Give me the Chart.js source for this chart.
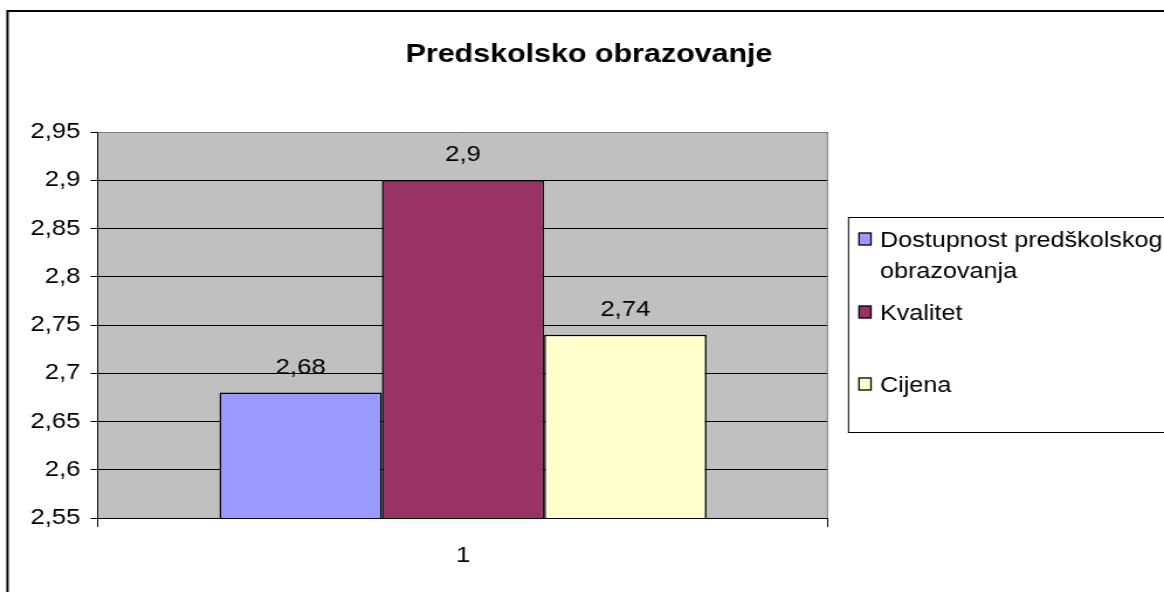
<!DOCTYPE html>
<html>
<head>
<meta charset="utf-8">
<script src="https://cdn.jsdelivr.net/npm/chart.js@4/dist/chart.umd.min.js"></script>
<style>
  html, body { margin: 0; padding: 0; background: #fff; overflow: hidden; }
  /* the original picture is stretched sideways, so the chart is drawn narrower and scaled */
  #wrap { width: 995px; height: 592px; transform: scaleX(1.169849); transform-origin: 0 0; }
</style>
</head>
<body>
<div id="wrap"><canvas id="chart"></canvas></div>
<script>
  // ---- Data -----------------------------------------------------------------
  const chartTitle  = 'Predskolsko obrazovanje';
  const categories  = ['1'];
  const seriesNames = ['Dostupnost predškolskog obrazovanja', 'Kvalitet', 'Cijena'];
  const legendLines = [['Dostupnost predškolskog', 'obrazovanja'], ['Kvalitet'], ['Cijena']];
  const dostupnost  = [2.68];
  const kvalitet    = [2.9];
  const cijena      = [2.74];
  const yTicks      = [2.55, 2.6, 2.65, 2.7, 2.75, 2.8, 2.85, 2.9, 2.95];

  const colors = ['#9999FF', '#993366', '#FFFFCC'];
  const FONT   = '"Liberation Sans", Arial, sans-serif';
  const SX     = 1164 / 995;                 // horizontal stretch of the page
  function ux(px) { return px / SX; }        // screen x -> canvas x

  function fmt(v) { return Number(v.toFixed(2)).toString().replace('.', ','); }

  // ---- Plugins --------------------------------------------------------------
  const frame = {
    id: 'frame',
    beforeDraw: function (chart) {
      const ctx = chart.ctx, a = chart.chartArea;
      ctx.save();
      ctx.fillStyle = '#fff';
      ctx.fillRect(0, 0, chart.width, chart.height);
      // outer border (right and bottom fall outside the picture)
      ctx.strokeStyle = '#000';
      ctx.lineWidth = 2;
      ctx.strokeRect(ux(7.5), 11, chart.width + 20, chart.height + 20);
      ctx.fillStyle = '#C0C0C0';
      ctx.fillRect(a.left, a.top, a.right - a.left, a.bottom - a.top);
      // title
      ctx.fillStyle = '#000';
      ctx.font = 'bold 26px ' + FONT;
      ctx.textAlign = 'center';
      ctx.textBaseline = 'alphabetic';
      ctx.fillText(chartTitle, ux(589), 62);
      ctx.restore();
    },
    afterDatasetsDraw: function (chart) {
      const ctx = chart.ctx, a = chart.chartArea;
      ctx.save();
      // grey top/right edge of the plot area
      ctx.strokeStyle = '#808080';
      ctx.lineWidth = 1;
      ctx.beginPath();
      ctx.moveTo(a.left, a.top + 0.5);
      ctx.lineTo(a.right - 0.5, a.top + 0.5);
      ctx.lineTo(a.right - 0.5, a.bottom);
      ctx.stroke();
      // value labels above bars
      ctx.fillStyle = '#000';
      ctx.font = '22px ' + FONT;
      ctx.textAlign = 'center';
      ctx.textBaseline = 'alphabetic';
      chart.data.datasets.forEach(function (ds, i) {
        chart.getDatasetMeta(i).data.forEach(function (bar, j) {
          ctx.fillText(fmt(ds.data[j]), bar.x, bar.y - 19);
        });
      });
      ctx.restore();
    },
    afterDraw: function (chart) {
      const ctx = chart.ctx;
      const left = ux(848.5), top = 217.5, bottom = 432.5;
      const baselines = [[247, 278], [320], [392]];
      ctx.save();
      ctx.fillStyle = '#fff';
      ctx.fillRect(left, top, chart.width - left + 10, bottom - top);
      ctx.strokeStyle = '#000';
      ctx.lineWidth = 1;
      ctx.strokeRect(left, top, chart.width - left + 10, bottom - top);
      ctx.font = '21.5px ' + FONT;
      ctx.textAlign = 'left';
      ctx.textBaseline = 'alphabetic';
      legendLines.forEach(function (lines, i) {
        const b = baselines[i];
        ctx.fillStyle = colors[i];
        ctx.fillRect(ux(859), b[0] - 14, ux(12), 12);
        ctx.strokeStyle = '#000';
        ctx.lineWidth = 1.3;
        ctx.strokeRect(ux(859), b[0] - 14, ux(12), 12);
        ctx.fillStyle = '#000';
        lines.forEach(function (t, k) { ctx.fillText(t, ux(880), b[k]); });
      });
      ctx.restore();
    }
  };

  // ---- Chart ----------------------------------------------------------------
  const seriesValues = [dostupnost, kvalitet, cijena];
  const datasets = seriesValues.map(function (vals, i) {
    return {
      label: seriesNames[i],
      data: vals,
      backgroundColor: colors[i],
      borderColor: '#000',
      borderWidth: 1.5,
      borderSkipped: 'bottom',
      categoryPercentage: 487 / 730,
      barPercentage: 1
    };
  });

  new Chart(document.getElementById('chart'), {
    type: 'bar',
    data: { labels: categories, datasets: datasets },
    plugins: [frame],
    options: {
      responsive: true,
      maintainAspectRatio: false,
      animation: false,
      devicePixelRatio: 1,
      layout: { padding: { left: 0, top: 132, right: 995 - ux(828), bottom: 0 } },
      plugins: { legend: { display: false }, tooltip: { enabled: false } },
      scales: {
        x: {
          afterFit: function (s) { s.height = 74; },
          grid: { offset: true, drawOnChartArea: false, color: '#000', tickLength: 9 },
          border: { color: '#000', width: 1 },
          ticks: { color: '#000', font: { family: FONT, size: 22 }, padding: 16 }
        },
        y: {
          min: yTicks[0],
          max: yTicks[yTicks.length - 1],
          afterFit: function (s) { s.width = ux(98); },
          afterBuildTicks: function (s) { s.ticks = yTicks.map(function (v) { return { value: v }; }); },
          grid: { color: '#000', lineWidth: 1, tickLength: ux(7.5) },
          border: { color: '#000', width: 1 },
          ticks: {
            color: '#000',
            font: { family: FONT, size: 22 },
            padding: ux(10),
            callback: function (v) { return fmt(v); }
          }
        }
      }
    }
  });
</script>
</body>
</html>
